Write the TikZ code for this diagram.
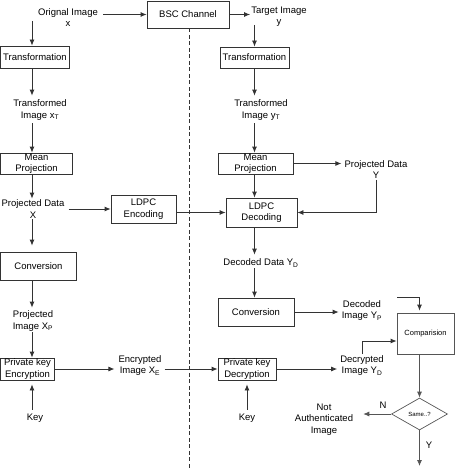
\documentclass[tikz,border=0pt]{standalone}
\usepackage{fontspec}
\setmainfont{Liberation Sans}
\usetikzlibrary{arrows.meta,shapes.geometric}
\definecolor{lc}{HTML}{333333}
\definecolor{lg}{HTML}{555555}
\newcommand\fs{\fontsize{9.5}{11.5}\selectfont}
\begin{document}
\begin{tikzpicture}[x=1pt,y=-1pt,
 bx/.style 2 args={draw=lc, line width=0.8pt, minimum width=#1, minimum height=#2, inner sep=0pt, align=center, font=\fs},
 txt/.style={align=center, inner sep=1pt, font=\fs},
 arr/.style={draw=lc, line width=0.8pt, -{Latex[length=6pt,width=5pt]}},
 ]
\useasboundingbox (0,0) rectangle (458,468);
% top
\node[bx={82}{27}] (bsc) at (188,14.5) {\raisebox{-5pt}{BSC Channel}};
\node[txt] (orig) at (68,17.5) {Orignal Image\\x};
\node[txt] (tgt) at (279,16.5) {Target Image\\y};
\coordinate (o1) at (32,21);
\coordinate (t1) at (254.5,25);
\coordinate (cl) at (32,0);
\coordinate (cr) at (254.5,0);
\coordinate (cc) at (419.5,0);
\coordinate (dl) at (189.5,468);
% left column
\node[bx={69}{22}] (tr1) at (35,57) {Transformation};
\node[txt] (tx1) at (40,110) {Transformed\\Image x\textsubscript{T}};
\node[bx={72}{21}] (mp1) at (36.5,163.5) {Mean\\Projection};
\node[txt] (pd1) at (33,209) {Projected Data\\X};
\node[bx={65}{28}] (enc) at (143.5,209) {LDPC\\Encoding};
\node[bx={76}{28}] (cv1) at (38.5,266) {Conversion};
\node[txt] (pi1) at (33,321) {Projected\\Image X\textsubscript{P}};
\node[bx={54}{22}] (pke) at (27.5,369) {Private key\\Encryption};
\node[txt] (ei) at (140,365.5) {Encrypted\\Image X\textsubscript{E}};
\node[txt] (k1) at (35,418) {Key};
% right column
\node[bx={69}{21}] (tr2) at (254.5,57.5) {Transformation};
\node[txt] (tx2) at (261,110) {Transformed\\Image y\textsubscript{T}};
\node[bx={75}{21}] (mp2) at (255.5,163.5) {Mean\\Projection};
\node[txt] (pd2) at (376,169.5) {Projected Data\\Y};
\node[bx={71}{29}] (dec) at (261.5,212.5) {LDPC\\Decoding};
\node[txt] (dd) at (261,263) {Decoded Data Y\textsubscript{D}};
\node[bx={76}{28}] (cv2) at (256,312) {Conversion};
\node[txt] (di) at (362,310.5) {Decoded\\Image Y\textsubscript{P}};
\node[bx={57}{41}, draw=lg, font=\fontsize{7.5}{9}\selectfont] (cmp) at (425.5,333.5) {Comparision};
\node[txt] (dcr) at (362,365.5) {Decrypted\\Image Y\textsubscript{D}};
\node[bx={58}{22}] (pkd) at (247,369) {Private key\\Decryption};
\node[txt] (k2) at (247,418) {Key};
\node[diamond, draw=lg, line width=0.7pt, minimum width=56, minimum height=32, inner sep=0pt, font=\fontsize{6}{7}\selectfont] (same) at (419.5,414) {Same..?};
\node[txt] (na) at (324,419.5) {Not\\Authenticated\\Image};
\node[txt] (nl) at (383,405) {N};
\node[txt] (yl) at (429,445) {Y};
\coordinate (yend) at (419.5,466);
\coordinate (dn) at (397,297.5);
% dashed separator
\draw[lc, line width=0.7pt, dash pattern=on 4pt off 2.5pt] (bsc.south -| dl) -- (dl);
% connectors top
\draw[arr] ([xshift=4pt]orig.east |- bsc.west) -- (bsc.west);
\draw[arr] (bsc.east) -- (bsc.east -| tgt.west);
\draw[arr] (o1) -- (o1 |- tr1.north);
\draw[arr] (t1) -- (t1 |- tr2.north);
% left
\draw[arr] (tr1.south -| cl) -- ([yshift=3pt]tx1.north -| cl);
\draw[arr] ([yshift=-2pt]tx1.south -| cl) -- (mp1.north -| cl);
\draw[arr] (mp1.south -| cl) -- (pd1.north -| cl);
\draw[arr] ([xshift=3pt]pd1.east |- enc.west) -- (enc.west);
\draw[arr] (enc.east |- dec.west) -- (dec.west);
\draw[arr] (pd1.south -| cl) -- ([yshift=6pt]cv1.north -| cl);
\draw[arr] (cv1.south -| cl) -- ([yshift=2pt]pi1.north -| cl);
\draw[arr] (pi1.south -| cl) -- (pke.north -| cl);
\draw[arr] (pke.east) -- ([xshift=-3pt]ei.west |- pke.east);
\draw[arr] ([xshift=2pt]ei.east |- pke.east) -- (pkd.west);
\draw[arr] ([yshift=3pt]k1.north -| cl) -- ([yshift=-4pt]pke.south -| cl);
% right
\draw[arr] (tr2.south -| cr) -- ([yshift=3pt]tx2.north -| cr);
\draw[arr] ([yshift=-2pt]tx2.south -| cr) -- (mp2.north -| cr);
\draw[arr] (mp2.east) -- ([xshift=-2pt]mp2.east -| pd2.west);
\draw[arr] (pd2.south) |- (dec.east);
\draw[arr] (mp2.south -| cr) -- (dec.north -| cr);
\draw[arr] (dec.south -| cr) -- ([yshift=3pt]dd.north -| cr);
\draw[arr] (dd.south -| cr) -- (cv2.north -| cr);
\draw[arr] (cv2.east) -- ([xshift=-2pt]cv2.east -| di.west);
\draw[arr] (dn) -| ([yshift=2pt]cmp.north -| cc);
\draw[arr] (dcr.north) |- ([yshift=-7.5pt]cmp.west);
\draw[arr] (pkd.east) -- ([xshift=-2pt]pkd.east -| dcr.west);
\draw[arr] ([yshift=3pt]k2.north) -- ([yshift=-4pt]pkd.south);
\draw[arr, draw=lg] (cmp.south -| cc) -- (same.north);
\draw[arr, draw=lg] (same.west) -- ([xshift=9pt]same.west -| na.east);
\draw[arr, draw=lg] (same.south) -- (yend);
\end{tikzpicture}
\end{document}
